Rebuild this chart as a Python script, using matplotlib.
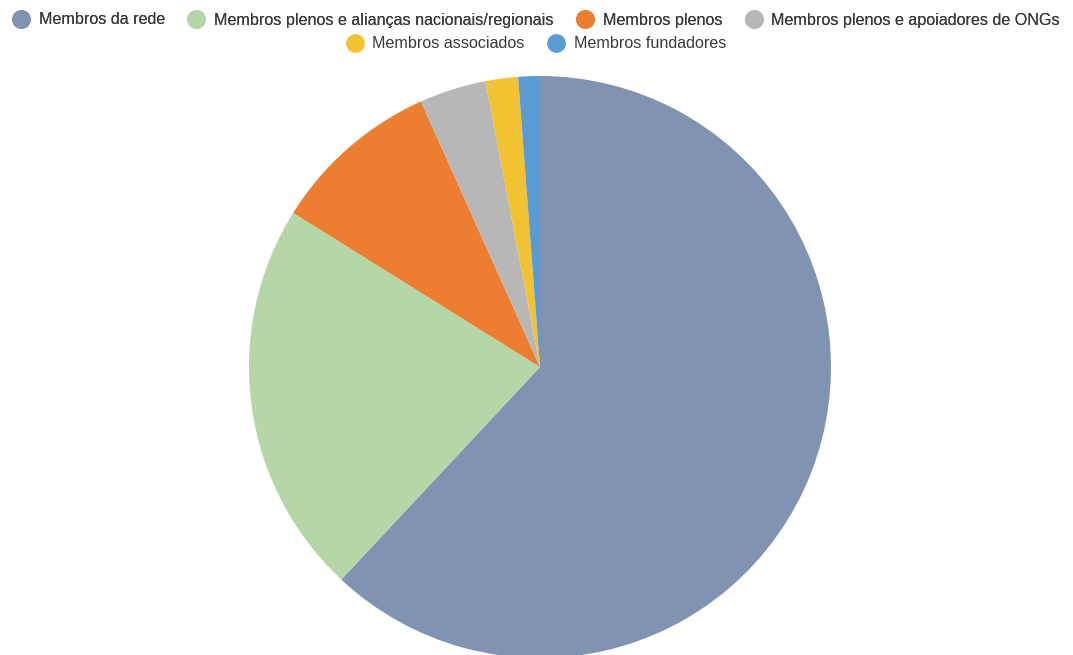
import matplotlib.pyplot as plt
from matplotlib.lines import Line2D

plt.rcParams["font.family"] = ["Liberation Sans", "DejaVu Sans"]

# member categories and their share (%)
labels = [
    "Membros da rede",
    "Membros plenos e alianças nacionais/regionais",
    "Membros plenos",
    "Membros plenos e apoiadores de ONGs",
    "Membros associados",
    "Membros fundadores",
]
shares = [61.9, 21.9, 9.4, 3.7, 1.8, 1.2]
colors = ["#8093B3", "#B5D6A7", "#ED7D31", "#B7B7B7", "#F1C232", "#5B9BD5"]

fig = plt.figure(figsize=(10.73, 6.55), dpi=100)

# pie axes: square box so the unit circle fills it
ax = fig.add_axes([249 / 1073, -3 / 655, 582 / 1073, 582 / 655])
ax.pie(shares, colors=colors, startangle=90, counterclock=False,
       radius=1, wedgeprops=dict(linewidth=0))
ax.set_xlim(-1, 1)
ax.set_ylim(-1, 1)
ax.axis("off")

# two centred legend rows
handles = [Line2D([], [], marker="o", linestyle="", markersize=12.5,
                  markerfacecolor=c, markeredgecolor=c) for c in colors]

leg_kw = dict(frameon=False, fontsize=11.6, handletextpad=0.6,
              columnspacing=1.45, handlelength=1.0, borderaxespad=0,
              labelcolor="#3a3a3a")
top = fig.legend(handles[:4], labels[:4], ncol=4, loc="center",
                 bbox_to_anchor=(0.5, 1 - 20 / 655), **leg_kw)
fig.add_artist(top)
fig.legend(handles[4:], labels[4:], ncol=2, loc="center",
           bbox_to_anchor=(0.5, 1 - 44 / 655), **leg_kw)

fig.savefig("out.png", dpi=100)
